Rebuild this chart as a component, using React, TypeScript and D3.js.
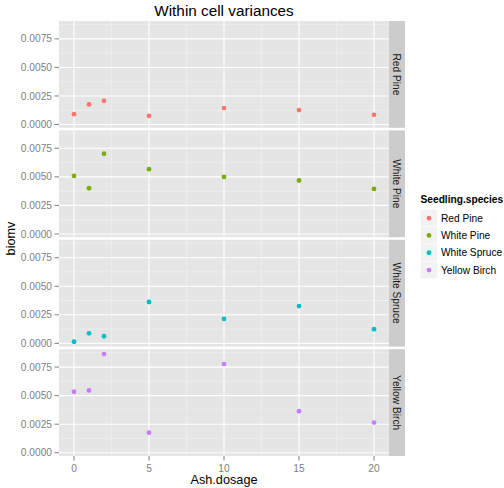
import React from "react";
import * as d3 from "d3";

const species = ["Red Pine", "White Pine", "White Spruce", "Yellow Birch"];
const colors = ["#F8766D", "#7CAE00", "#00BFC4", "#C77CFF"];
const dosages = [0, 1, 2, 5, 10, 15, 20];
const redPine = [0.00091, 0.00176, 0.00208, 0.00076, 0.00144, 0.00127, 0.00085];
const whitePine = [0.00508, 0.004, 0.00702, 0.00567, 0.00499, 0.00468, 0.00394];
const whiteSpruce = [0.00014, 0.00088, 0.00062, 0.00362, 0.00214, 0.00326, 0.00124];
const yellowBirch = [0.00534, 0.00546, 0.00864, 0.00176, 0.00776, 0.00364, 0.00264];
const series = [redPine, whitePine, whiteSpruce, yellowBirch];
const xTicks = [0, 5, 10, 15, 20];
const xMinor = [2.5, 7.5, 12.5, 17.5];
const yTicks = [0, 0.0025, 0.005, 0.0075];
const yMinor = [0.00125, 0.00375, 0.00625, 0.00875];

const W = 504;
const H = 488;
const left = 59;
const right = 389;
const stripW = 16;
const top = 21;
const bottom = 456;
const gap = 2.6;
const panelH = (bottom - top - gap * 3) / 4;
const font = "'Liberation Sans', Arial, Helvetica, sans-serif";
const small = 10.2;

export default function App() {
  const all = series.flat();
  const lo = d3.min(all) as number;
  const hi = d3.max(all) as number;
  const pad = (hi - lo) * 0.05;
  const x = d3.scaleLinear().domain([-1, 21]).range([left, right]);

  return (
    <svg width={W} height={H} style={{ position: "absolute", left: 0, top: 0 }} fontFamily={font}>
      <rect width={W} height={H} fill="#fff" />
      <text x={(left + right) / 2} y={16} textAnchor="middle" fontSize={15.3} fill="#000">
        Within cell variances
      </text>
      {species.map((sp, i) => {
        const y0 = top + i * (panelH + gap);
        const y = d3.scaleLinear().domain([lo - pad, hi + pad]).range([y0 + panelH, y0]);
        return (
          <g key={sp}>
            <rect x={left} y={y0} width={right - left} height={panelH} fill="#e5e5e5" />
            {xMinor.map((t) => (
              <line key={"xm" + t} x1={x(t)} x2={x(t)} y1={y0} y2={y0 + panelH} stroke="#f2f2f2" strokeWidth={0.5} />
            ))}
            {yMinor.map((t) => (
              <line key={"ym" + t} x1={left} x2={right} y1={y(t)} y2={y(t)} stroke="#f2f2f2" strokeWidth={0.5} />
            ))}
            {xTicks.map((t) => (
              <line key={"x" + t} x1={x(t)} x2={x(t)} y1={y0} y2={y0 + panelH} stroke="#fff" strokeWidth={1.1} />
            ))}
            {yTicks.map((t) => (
              <g key={"y" + t}>
                <line x1={left} x2={right} y1={y(t)} y2={y(t)} stroke="#fff" strokeWidth={1.1} />
                <line x1={left - 4.5} x2={left} y1={y(t)} y2={y(t)} stroke="#7f7f7f" strokeWidth={1} />
                <text x={left - 7} y={y(t)} dy="0.35em" textAnchor="end" fontSize={small} fill="#7f7f7f">
                  {d3.format(".4f")(t)}
                </text>
              </g>
            ))}
            {series[i].map((v, j) => (
              <circle key={j} cx={x(dosages[j])} cy={y(v)} r={2.4} fill={colors[i]} />
            ))}
            <rect x={right} y={y0} width={stripW} height={panelH} fill="#cccccc" />
            <text
              transform={`translate(${right + stripW / 2},${y0 + panelH / 2}) rotate(90)`}
              textAnchor="middle"
              dy="0.35em"
              fontSize={small}
              fill="#1a1a1a"
            >
              {sp}
            </text>
          </g>
        );
      })}
      {xTicks.map((t) => (
        <g key={"xt" + t}>
          <line x1={x(t)} x2={x(t)} y1={bottom} y2={bottom + 4.5} stroke="#7f7f7f" strokeWidth={1} />
          <text x={x(t)} y={bottom + 16} textAnchor="middle" fontSize={small} fill="#7f7f7f">
            {t}
          </text>
        </g>
      ))}
      <text x={(left + right) / 2} y={484} textAnchor="middle" fontSize={12.7} fill="#000">
        Ash.dosage
      </text>
      <text transform={`translate(15,${(top + bottom) / 2}) rotate(-90)`} textAnchor="middle" fontSize={12.7} fill="#000">
        biomv
      </text>
      <g>
        <text x={420.5} y={203} fontSize={small} fontWeight="bold" fill="#000">
          Seedling.species
        </text>
        {species.map((sp, i) => {
          const ky = 209.5 + i * 17.3;
          return (
            <g key={"lg" + sp}>
              <rect x={420.5} y={ky} width={17} height={17.3} fill="#f2f2f2" stroke="#fff" strokeWidth={0.5} />
              <circle cx={429} cy={ky + 8.65} r={2.4} fill={colors[i]} />
              <text x={441} y={ky + 8.65} dy="0.35em" fontSize={small} fill="#000">
                {sp}
              </text>
            </g>
          );
        })}
      </g>
    </svg>
  );
}
